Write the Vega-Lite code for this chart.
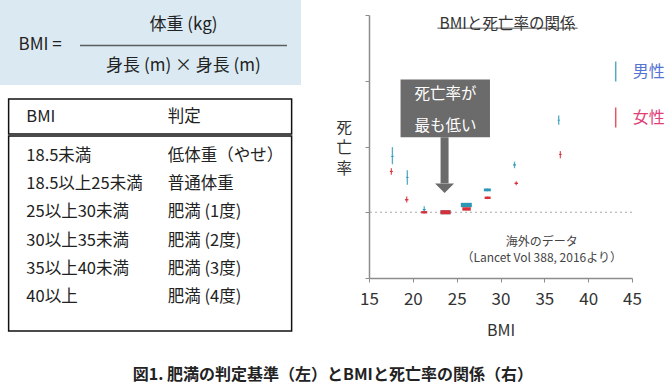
{
  "$schema": "https://vega.github.io/schema/vega-lite/v6.json",
  "padding": {"left": 0, "top": 0, "right": 0, "bottom": 10},
  "background": "white",
  "config": {
    "font": "Noto Sans CJK JP",
    "view": {"stroke": null},
    "text": {"color": "#222"}
  },
  "title": {
    "text": "図1. 肥満の判定基準（左）とBMIと死亡率の関係（右）",
    "orient": "bottom",
    "anchor": "middle",
    "fontSize": 16,
    "fontWeight": "bold",
    "color": "#222",
    "offset": 29
  },
  "resolve": {"scale": {"color": "independent", "size": "independent"}, "legend": {"color": "independent"}},
  "spacing": 34,
  "hconcat": [
    {
      "spacing": 13,
      "center": true,
      "vconcat": [
        {
          "width": 301,
          "height": 85,
          "view": {"fill": "#dbeaf2", "stroke": null},
          "encoding": {
            "x": {"field": "部分", "type": "nominal", "axis": null,
                  "scale": {"type": "band", "domain": ["左辺", "右辺"], "paddingInner": 0.5, "paddingOuter": 0.3, "align": 0.05}},
            "y": {"field": "段", "type": "nominal", "axis": null,
                  "scale": {"type": "band", "domain": ["上", "中", "下"], "paddingInner": 0, "paddingOuter": 0.6, "align": 0.62}}
          },
          "layer": [
            {
              "data": {"values": [
                {"部分": "左辺", "段": "中", "式": "BMI   ="},
                {"部分": "右辺", "段": "上", "式": "体重 (kg)"},
                {"部分": "右辺", "段": "下", "式": "身長 (m) × 身長 (m)"}
              ]},
              "mark": {"type": "text", "fontSize": 17, "color": "#222"},
              "encoding": {"text": {"field": "式"}}
            },
            {
              "data": {"values": [{"部分": "右辺", "段": "中"}]},
              "mark": {"type": "tick", "orient": "horizontal", "size": 207, "thickness": 1.5, "color": "#222"}
            }
          ]
        },
        {
          "spacing": 0,
          "vconcat": [
            {
              "width": 283,
              "height": 35,
              "view": {"stroke": "#111", "strokeWidth": 1.5, "fill": "white"},
              "data": {"values": [{"列": "BMI"}, {"列": "判定"}]},
              "mark": {"type": "text", "align": "left", "fontSize": 16.5, "color": "#222"},
              "encoding": {
                "x": {"field": "列", "type": "nominal", "bandPosition": 0.125, "axis": null,
                      "scale": {"type": "band", "domain": ["BMI", "判定"], "paddingInner": 0, "paddingOuter": 0}},
                "text": {"field": "列"}
              }
            },
            {
              "width": 283,
              "height": 195,
              "view": {"stroke": "#111", "strokeWidth": 1.5, "fill": "white"},
              "data": {"values": [
                {"BMI": "18.5未満", "判定": "低体重（やせ）"},
                {"BMI": "18.5以上25未満", "判定": "普通体重"},
                {"BMI": "25以上30未満", "判定": "肥満 (1度)"},
                {"BMI": "30以上35未満", "判定": "肥満 (2度)"},
                {"BMI": "35以上40未満", "判定": "肥満 (3度)"},
                {"BMI": "40以上", "判定": "肥満 (4度)"}
              ]},
              "transform": [{"fold": ["BMI", "判定"], "as": ["列", "値"]}],
              "mark": {"type": "text", "align": "left", "fontSize": 16.5, "color": "#222"},
              "encoding": {
                "x": {"field": "列", "type": "nominal", "bandPosition": 0.125, "axis": null,
                      "scale": {"type": "band", "domain": ["BMI", "判定"], "paddingInner": 0, "paddingOuter": 0}},
                "y": {"field": "BMI", "type": "ordinal", "sort": null, "axis": null,
                      "scale": {"type": "band", "paddingInner": 0, "paddingOuter": 0.445, "align": 0.22}},
                "text": {"field": "値"}
              }
            }
          ]
        }
      ]
    },
    {
      "width": 263,
      "height": 278,
      "title": {
        "text": "BMIと死亡率の関係",
        "fontSize": 15.5,
        "fontWeight": "normal",
        "color": "#333",
        "anchor": "middle",
        "frame": "group",
        "offset": -32,
        "dx": 7
      },
      "data": {"values": [
        {"性別": "男性", "BMI": 17.67, "死亡率": 1.85, "下限": 1.73, "上限": 1.99, "重み": 6},
        {"性別": "男性", "BMI": 19.37, "死亡率": 1.53, "下限": 1.42, "上限": 1.64, "重み": 6},
        {"性別": "男性", "BMI": 21.3, "死亡率": 1.04, "下限": 0.99, "上限": 1.09, "重み": 9},
        {"性別": "男性", "BMI": 23.73, "死亡率": 1.0, "下限": null, "上限": null, "重み": 100},
        {"性別": "男性", "BMI": 26.1, "死亡率": 1.11, "下限": 1.09, "上限": 1.13, "重み": 121},
        {"性別": "男性", "BMI": 28.5, "死亡率": 1.34, "下限": 1.32, "上限": 1.36, "重み": 49},
        {"性別": "男性", "BMI": 31.6, "死亡率": 1.72, "下限": 1.67, "上限": 1.77, "重み": 9},
        {"性別": "男性", "BMI": 36.64, "死亡率": 2.4, "下限": 2.33, "上限": 2.47, "重み": 5},
        {"性別": "女性", "BMI": 17.55, "死亡率": 1.62, "下限": 1.57, "上限": 1.67, "重み": 9},
        {"性別": "女性", "BMI": 19.3, "死亡率": 1.19, "下限": 1.15, "上限": 1.24, "重み": 12},
        {"性別": "女性", "BMI": 21.3, "死亡率": 1.0, "下限": 0.98, "上限": 1.02, "重み": 36},
        {"性別": "女性", "BMI": 23.73, "死亡率": 1.0, "下限": null, "上限": null, "重み": 100},
        {"性別": "女性", "BMI": 26.13, "死亡率": 1.05, "下限": 1.03, "上限": 1.07, "重み": 72},
        {"性別": "女性", "BMI": 28.53, "死亡率": 1.22, "下限": 1.2, "上限": 1.24, "重み": 36},
        {"性別": "女性", "BMI": 31.8, "死亡率": 1.44, "下限": 1.41, "上限": 1.47, "重み": 12},
        {"性別": "女性", "BMI": 36.83, "死亡率": 1.88, "下限": 1.82, "上限": 1.93, "重み": 7}
      ]},
      "layer": [
        {
          "data": {"values": [{}]},
          "mark": {"type": "rule", "color": "#a8a8a8", "strokeDash": [2, 3], "strokeWidth": 1.2},
          "encoding": {"y": {"datum": 1}}
        },
        {
          "data": {"values": [{}]},
          "mark": {"type": "rect", "color": "#6b6b6b"},
          "encoding": {"x": {"datum": 18.6}, "x2": {"datum": 28.8}, "y": {"datum": 3.02}, "y2": {"datum": 2.14}}
        },
        {
          "data": {"values": [{}]},
          "mark": {"type": "rule", "color": "#6b6b6b", "strokeWidth": 8},
          "encoding": {"x": {"datum": 23.62}, "y": {"datum": 2.14}, "y2": {"datum": 1.44}}
        },
        {
          "data": {"values": [{}]},
          "mark": {"type": "point", "filled": true, "opacity": 1, "color": "#6b6b6b", "size": 361, "shape": "M-1,-0.5L1,-0.5L0,0.5Z"},
          "encoding": {"x": {"datum": 23.62}, "y": {"datum": 1.365}}
        },
        {
          "data": {"values": [{}]},
          "mark": {"type": "text", "color": "white", "fontSize": 15.5, "lineHeight": 32},
          "encoding": {"x": {"datum": 23.74}, "y": {"datum": 2.8}, "text": {"value": ["死亡率が", "最も低い"]}}
        },
        {
          "data": {"values": [{}]},
          "mark": {"type": "rule", "color": "#555", "strokeWidth": 1},
          "encoding": {"x": {"datum": 22.8}, "x2": {"datum": 38.8}, "y": {"datum": 3.8}}
        },
        {
          "data": {"values": [{}]},
          "mark": {"type": "text", "color": "#444", "fontSize": 12, "lineHeight": 16},
          "encoding": {"x": {"datum": 34.7}, "y": {"datum": 0.55}, "text": {"value": ["海外のデータ", "（Lancet Vol 388, 2016より）"]}}
        },
        {
          "transform": [{"filter": "datum['下限'] != null"}],
          "mark": {"type": "rule", "strokeWidth": 1.3, "opacity": 0.8},
          "encoding": {
            "x": {"field": "BMI", "type": "quantitative"},
            "y": {"field": "下限", "type": "quantitative"},
            "y2": {"field": "上限"},
            "color": {"field": "性別", "type": "nominal",
                      "legend": {"orient": "none", "legendX": 235.7, "legendY": 60.5, "title": null, "direction": "vertical",
                                 "symbolType": "M0,-1L0,1", "symbolSize": 400, "symbolStrokeWidth": 1.5,
                                 "labelFontSize": 16, "labelOffset": 6, "rowPadding": 20, "padding": 0,
                                 "labelColor": {"expr": "datum.value === '男性' ? '#5473d2' : '#df3f77'"},
                                 "encode": {
                                   "symbols": {"update": {
                                     "stroke": {"signal": "datum.value === '男性' ? '#2b97b5' : '#d8303b'"},
                                     "size": {"signal": "datum.value === '男性' ? 400 : 121"},
                                     "fill": {"value": "transparent"},
                                     "opacity": {"value": 1}}},
                                   "labels": {"update": {
                                     "fill": {"signal": "datum.value === '男性' ? '#5473d2' : '#df3f77'"}}}
                                 }}}
          }
        },
        {
          "mark": {"type": "point", "filled": true, "opacity": 1, "shape": "M-1,-0.4L1,-0.4L1,0.4L-1,0.4Z"},
          "encoding": {
            "x": {"field": "BMI", "type": "quantitative",
                  "scale": {"domain": [15, 45], "nice": false, "zero": false},
                  "axis": {"values": [15, 20, 25, 30, 35, 40, 45], "labelFlush": false, "labelFontSize": 17, "labelColor": "#333",
                           "labelPadding": 9, "title": "BMI", "titleFontSize": 16, "titleFontWeight": "normal", "titleColor": "#333",
                           "titlePadding": 15, "domainColor": "#8c8c8c", "domainWidth": 1.5, "tickColor": "#8c8c8c", "tickSize": 4, "grid": false}},
            "y": {"field": "死亡率", "type": "quantitative",
                  "scale": {"domain": [0, 4], "nice": false, "range": [278, 15]},
                  "axis": {"values": [0, 1, 2, 3, 4], "labels": false, "title": ["死", "亡", "率"], "titleAngle": 0,
                           "titleAlign": "right", "titleBaseline": "middle", "titleFontSize": 15.5, "titleLineHeight": 20.5,
                           "titleFontWeight": "normal", "titleColor": "#333", "titlePadding": -28, "titleY": 127,
                           "domainColor": "#8c8c8c", "domainWidth": 1.5, "tickColor": "#8c8c8c", "tickSize": 4, "grid": false}},
            "color": {"field": "性別", "type": "nominal",
                      "scale": {"domain": ["男性", "女性"], "range": ["#2b97b5", "#d8303b"]},
                      "legend": {"orient": "none", "legendX": 235.7, "legendY": 60.5, "title": null, "direction": "vertical",
                                 "symbolType": "M0,-1L0,1", "symbolSize": 400, "symbolStrokeWidth": 1.5,
                                 "labelFontSize": 16, "labelOffset": 6, "rowPadding": 20, "padding": 0,
                                 "labelColor": {"expr": "datum.value === '男性' ? '#5473d2' : '#df3f77'"},
                                 "encode": {
                                   "symbols": {"update": {
                                     "stroke": {"signal": "datum.value === '男性' ? '#2b97b5' : '#d8303b'"},
                                     "size": {"signal": "datum.value === '男性' ? 400 : 121"},
                                     "fill": {"value": "transparent"},
                                     "opacity": {"value": 1}}},
                                   "labels": {"update": {
                                     "fill": {"signal": "datum.value === '男性' ? '#5473d2' : '#df3f77'"}}}
                                 }}},
            "size": {"field": "重み", "type": "quantitative", "scale": {"range": [0, 121]}, "legend": null}
          }
        }
      ]
    }
  ]
}
